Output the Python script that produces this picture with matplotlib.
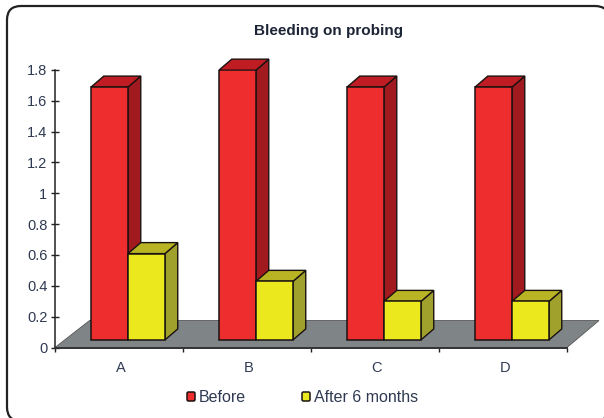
#!/usr/bin/env python3
import matplotlib
matplotlib.use('Agg')
import matplotlib.pyplot as plt
from matplotlib.patches import FancyBboxPatch, Polygon

plt.rcParams['font.family'] = ['Liberation Sans', 'DejaVu Sans']

categories = ['A', 'B', 'C', 'D']
before = [1.64, 1.75, 1.64, 1.64]
after = [0.56, 0.38, 0.25, 0.25]
yticks = [0, 0.2, 0.4, 0.6, 0.8, 1, 1.2, 1.4, 1.6, 1.8]
ytick_labels = ['0', '0.2', '0.4', '0.6', '0.8', '1', '1.2', '1.4', '1.6', '1.8']

W, H = 604, 418
TXT = '#2f3a52'
EDGE = '#1a1210'
RED = '#ee2e2e'
YEL = '#ece81e'

fig = plt.figure(figsize=(W / 100, H / 100), dpi=100, facecolor='white')

# rounded frame, runs off the right and bottom edge
bg = fig.add_axes([0, 0, 1, 1])
bg.set_xlim(0, W); bg.set_ylim(H, 0)
bg.axis('off')
bg.add_patch(FancyBboxPatch((7, 6), 602, 415,
                            boxstyle='round,pad=0,rounding_size=14',
                            fc='white', ec='#222222', lw=1.6))

# plot area
x0, x1, ytop, ybot = 55, 567, 70, 347.5
ax = fig.add_axes([x0 / W, 1 - ybot / H, (x1 - x0) / W, (ybot - ytop) / H])
ax.set_xlim(0, 4); ax.set_ylim(0, 1.8)
ax.patch.set_alpha(0)
for s in ['top', 'right']:
    ax.spines[s].set_visible(False)
ax.spines['left'].set_color('#222222')
ax.spines['left'].set_linewidth(1.1)
ax.spines['bottom'].set_color('#333333')
ax.spines['bottom'].set_linewidth(1.4)
ax.set_xticks([0, 1, 2, 3, 4])
ax.set_xticklabels([])
ax.set_yticks(yticks)
ax.set_yticklabels(ytick_labels, fontsize=10.5, color=TXT)
ax.tick_params(axis='y', direction='inout', length=6, width=1, color='#222222', pad=2.5)
ax.tick_params(axis='x', direction='out', length=3, width=1, color='#222222')

# floor
ax.add_patch(Polygon([(0, 0), (4, 0), (4.25, 0.175), (0.27, 0.175)],
                     fc='#7f8486', ec='#555555', lw=0.6, zorder=1, clip_on=False))

BASE = 0.049
BW = 0.289
DX, DY = 0.1, 0.0714


def bar3d(ax, left, val, front, side, top):
    ax.bar(left, val, bottom=BASE, width=BW, align='edge', color=front,
           edgecolor=EDGE, linewidth=1.1, zorder=5)
    r = left + BW
    t = BASE + val
    ax.add_patch(Polygon([(r, BASE), (r + DX, BASE + DY), (r + DX, t + DY), (r, t)],
                         fc=side, ec=EDGE, lw=1.0, zorder=4, clip_on=False))
    ax.add_patch(Polygon([(left, t), (left + DX, t + DY), (r + DX, t + DY), (r, t)],
                         fc=top, ec=EDGE, lw=1.0, zorder=4, clip_on=False))


for i, cat in enumerate(categories):
    bar3d(ax, i + 0.281, before[i], RED, '#a01a20', '#c01c24')
    bar3d(ax, i + 0.281 + BW, after[i], YEL, '#a0a02c', '#b8b424')
    ax.text(i + 0.515, -0.135, cat, ha='center', va='center', fontsize=10.5, color=TXT)

fig.text(328 / W, 1 - 31 / H, 'Bleeding on probing', ha='center', va='center',
         fontsize=11, fontweight='bold', color='#1c2436')

# legend
for lx, c, lab in [(187, RED, 'Before'), (302, YEL, 'After 6 months')]:
    bg.add_patch(FancyBboxPatch((lx, 392), 8, 9, boxstyle='round,pad=0,rounding_size=1.5',
                                fc=c, ec=EDGE, lw=1.1))
    bg.text(lx + 12, 397.5, lab, ha='left', va='center', fontsize=11.5, color=TXT)

fig.savefig('out.png', dpi=100)
